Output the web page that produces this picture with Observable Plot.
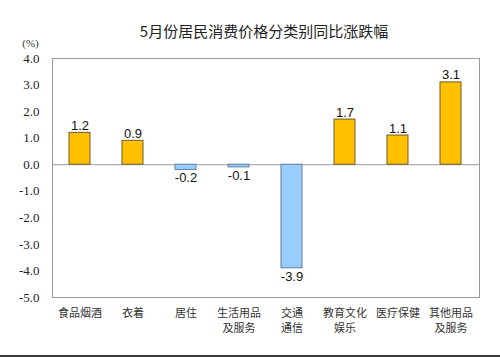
<!DOCTYPE html>
<html><head><meta charset="utf-8">
<script src="https://cdn.jsdelivr.net/npm/d3@7"></script>
<script src="https://cdn.jsdelivr.net/npm/@observablehq/plot@0.6"></script>
<style>
body{margin:0;background:#fff;}
#wrap{width:500px;height:355px;border-bottom:2px solid #3a3a3a;overflow:hidden;}
</style>
</head><body><div id="wrap"></div>
<script>
const title = "5月份居民消费价格分类别同比涨跌幅";
const unitLabel = "(%)";
const categories = ["食品烟酒","衣着","居住","生活用品及服务","交通通信","教育文化娱乐","医疗保健","其他用品及服务"];
const categoryLabels = ["食品烟酒","衣着","居住","生活用品\n及服务","交通\n通信","教育文化\n娱乐","医疗保健","其他用品\n及服务"];
const values = [1.2, 0.9, -0.2, -0.1, -3.9, 1.7, 1.1, 3.1];
const yTicks = [4,3,2,1,0,-1,-2,-3,-4,-5];

const data = categories.map((c,i)=>({cat:c, label:categoryLabels[i], v:values[i]}));
const labelOf = new Map(data.map(d=>[d.cat,d.label]));
const fmt = d => d.toFixed(1);

const chart = Plot.plot({
  width: 500, height: 355,
  marginLeft: 52, marginRight: 21, marginTop: 58, marginBottom: 58,
  style: {background:"#fff"},
  x: {domain: categories, paddingInner: 0.6, paddingOuter: 0.3, axis: null},
  y: {domain: [-5, 4], axis: null},
  marks: [
    Plot.frame({stroke:"#9a9a9a"}),
    Plot.ruleY([0], {stroke:"#9a9a9a"}),
    Plot.barY(data, {x:"cat", y:"v",
      fill: d => d.v >= 0 ? "#FFC000" : "#99CCFF",
      stroke: d => d.v >= 0 ? "#6e5a2a" : "#5f7f9f", strokeWidth: 1}),
    Plot.text(data, {x:"cat", y:"v", text: d=>fmt(d.v),
      fontSize: 13, fontFamily:"Liberation Sans, Arial, sans-serif", fill:"#111",
      lineAnchor: "bottom", filter: d=>d.v>=0, dy:-3}),
    Plot.text(data, {x:"cat", y:"v", text: d=>fmt(d.v),
      fontSize: 13, fontFamily:"Liberation Sans, Arial, sans-serif", fill:"#111",
      lineAnchor: "top", filter: d=>d.v<0, dy:3}),
    Plot.axisY(yTicks, {tickSize:0, tickPadding:13, tickFormat: fmt, label: null,
      fontSize: 13, fontFamily:"Liberation Serif, Times New Roman, serif", fill:"#222"}),
    Plot.axisX({tickSize:0, tickPadding:9, tickFormat: c=>labelOf.get(c), label: null,
      fontSize: 11, lineHeight: 1.35, fontFamily:"Noto Sans CJK SC, sans-serif", fill:"#333", lineAnchor:"top"}),
    Plot.text([title], {frameAnchor:"top", dy:-26, lineAnchor:"middle", dx: -2,
      fontSize: 15, fontFamily:"Noto Sans CJK SC, sans-serif", fill:"#222"}),
    Plot.text([unitLabel], {frameAnchor:"top-left", dx:-22, dy:-15, lineAnchor:"middle", textAnchor:"middle",
      fontSize: 11, fontFamily:"Liberation Serif, serif", fill:"#333"})
  ]
});
document.getElementById("wrap").appendChild(chart);
</script>
</body></html>
